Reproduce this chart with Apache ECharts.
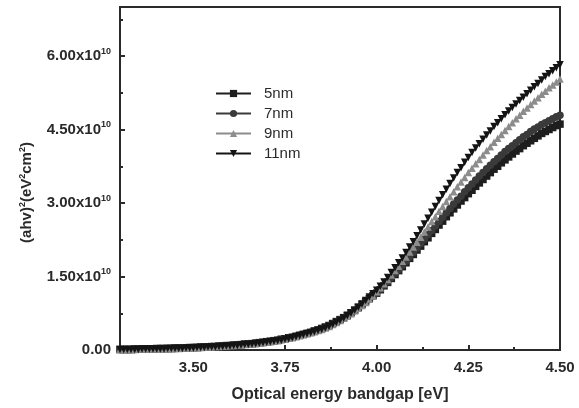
<!DOCTYPE html>
<html>
<head>
<meta charset="utf-8">
<script src="https://cdn.jsdelivr.net/npm/echarts@6/dist/echarts.min.js"></script>
<style>
  html, body { margin: 0; padding: 0; background: #fff; }
  #chart { width: 579px; height: 408px; }
</style>
</head>
<body>
<div id="chart"></div>
<script>
// photon energy (eV), one reading every 0.01 eV
const energy = [
  3.30, 3.31, 3.32, 3.33, 3.34, 3.35, 3.36, 3.37, 3.38, 3.39,
  3.40, 3.41, 3.42, 3.43, 3.44, 3.45, 3.46, 3.47, 3.48, 3.49,
  3.50, 3.51, 3.52, 3.53, 3.54, 3.55, 3.56, 3.57, 3.58, 3.59,
  3.60, 3.61, 3.62, 3.63, 3.64, 3.65, 3.66, 3.67, 3.68, 3.69,
  3.70, 3.71, 3.72, 3.73, 3.74, 3.75, 3.76, 3.77, 3.78, 3.79,
  3.80, 3.81, 3.82, 3.83, 3.84, 3.85, 3.86, 3.87, 3.88, 3.89,
  3.90, 3.91, 3.92, 3.93, 3.94, 3.95, 3.96, 3.97, 3.98, 3.99,
  4.00, 4.01, 4.02, 4.03, 4.04, 4.05, 4.06, 4.07, 4.08, 4.09,
  4.10, 4.11, 4.12, 4.13, 4.14, 4.15, 4.16, 4.17, 4.18, 4.19,
  4.20, 4.21, 4.22, 4.23, 4.24, 4.25, 4.26, 4.27, 4.28, 4.29,
  4.30, 4.31, 4.32, 4.33, 4.34, 4.35, 4.36, 4.37, 4.38, 4.39,
  4.40, 4.41, 4.42, 4.43, 4.44, 4.45, 4.46, 4.47, 4.48, 4.49,
  4.50
];

// (ahv)^2 in units of 1e10 eV^2 cm^-2
const nm5 = [
  0.01, 0.01, 0.01, 0.01, 0.02, 0.02, 0.02, 0.02, 0.02, 0.02,
  0.03, 0.03, 0.03, 0.03, 0.03, 0.04, 0.04, 0.04, 0.04, 0.05,
  0.05, 0.05, 0.06, 0.06, 0.06, 0.07, 0.07, 0.08, 0.08, 0.09,
  0.09, 0.10, 0.10, 0.11, 0.12, 0.12, 0.13, 0.14, 0.15, 0.16,
  0.17, 0.18, 0.19, 0.20, 0.22, 0.23, 0.25, 0.26, 0.28, 0.30,
  0.32, 0.34, 0.36, 0.39, 0.41, 0.44, 0.47, 0.50, 0.54, 0.58,
  0.62, 0.66, 0.71, 0.76, 0.81, 0.87, 0.93, 0.99, 1.05, 1.11,
  1.16, 1.23, 1.31, 1.38, 1.46, 1.54, 1.62, 1.70, 1.78, 1.87,
  1.95, 2.04, 2.12, 2.21, 2.29, 2.38, 2.46, 2.55, 2.63, 2.72,
  2.80, 2.88, 2.96, 3.04, 3.11, 3.19, 3.26, 3.34, 3.41, 3.48,
  3.55, 3.62, 3.69, 3.75, 3.82, 3.88, 3.94, 4.00, 4.06, 4.11,
  4.17, 4.22, 4.27, 4.32, 4.37, 4.42, 4.46, 4.50, 4.54, 4.58,
  4.61
];
const nm7 = [
  0.01, 0.01, 0.01, 0.01, 0.01, 0.02, 0.02, 0.02, 0.02, 0.02,
  0.02, 0.03, 0.03, 0.03, 0.03, 0.03, 0.04, 0.04, 0.04, 0.04,
  0.05, 0.05, 0.05, 0.06, 0.06, 0.07, 0.07, 0.07, 0.08, 0.08,
  0.09, 0.09, 0.10, 0.11, 0.11, 0.12, 0.13, 0.14, 0.14, 0.15,
  0.16, 0.17, 0.18, 0.20, 0.21, 0.23, 0.24, 0.26, 0.28, 0.30,
  0.32, 0.34, 0.36, 0.38, 0.40, 0.43, 0.46, 0.49, 0.53, 0.57,
  0.61, 0.65, 0.70, 0.75, 0.80, 0.86, 0.92, 0.98, 1.04, 1.10,
  1.17, 1.24, 1.32, 1.40, 1.48, 1.56, 1.64, 1.73, 1.81, 1.90,
  1.99, 2.08, 2.17, 2.26, 2.35, 2.44, 2.53, 2.62, 2.71, 2.80,
  2.89, 2.98, 3.06, 3.14, 3.23, 3.31, 3.39, 3.47, 3.55, 3.62,
  3.70, 3.77, 3.84, 3.91, 3.98, 4.05, 4.11, 4.17, 4.23, 4.29,
  4.35, 4.40, 4.46, 4.51, 4.55, 4.60, 4.64, 4.68, 4.72, 4.76,
  4.79
];
const nm9 = [
  0.01, 0.01, 0.01, 0.01, 0.01, 0.02, 0.02, 0.02, 0.02, 0.02,
  0.02, 0.02, 0.03, 0.03, 0.03, 0.03, 0.03, 0.04, 0.04, 0.04,
  0.05, 0.05, 0.05, 0.06, 0.06, 0.06, 0.07, 0.07, 0.08, 0.08,
  0.09, 0.09, 0.10, 0.10, 0.11, 0.12, 0.12, 0.13, 0.14, 0.15,
  0.16, 0.17, 0.18, 0.19, 0.21, 0.22, 0.24, 0.25, 0.27, 0.29,
  0.31, 0.33, 0.35, 0.37, 0.40, 0.42, 0.45, 0.48, 0.52, 0.56,
  0.60, 0.65, 0.69, 0.74, 0.80, 0.85, 0.91, 0.97, 1.04, 1.10,
  1.19, 1.27, 1.35, 1.44, 1.53, 1.62, 1.71, 1.81, 1.90, 2.00,
  2.10, 2.20, 2.30, 2.41, 2.51, 2.62, 2.72, 2.83, 2.93, 3.03,
  3.13, 3.23, 3.33, 3.43, 3.52, 3.62, 3.71, 3.80, 3.89, 3.98,
  4.07, 4.15, 4.24, 4.32, 4.40, 4.48, 4.56, 4.64, 4.72, 4.79,
  4.87, 4.94, 5.01, 5.08, 5.15, 5.22, 5.28, 5.35, 5.41, 5.47,
  5.53
];
const nm11 = [
  0.01, 0.01, 0.01, 0.01, 0.01, 0.01, 0.02, 0.02, 0.02, 0.02,
  0.02, 0.02, 0.02, 0.03, 0.03, 0.03, 0.03, 0.03, 0.04, 0.04,
  0.04, 0.05, 0.05, 0.05, 0.06, 0.06, 0.06, 0.07, 0.07, 0.08,
  0.08, 0.09, 0.09, 0.10, 0.11, 0.11, 0.12, 0.13, 0.14, 0.15,
  0.16, 0.17, 0.18, 0.19, 0.20, 0.22, 0.23, 0.25, 0.27, 0.29,
  0.31, 0.33, 0.35, 0.37, 0.40, 0.42, 0.45, 0.48, 0.52, 0.56,
  0.60, 0.65, 0.70, 0.75, 0.81, 0.87, 0.94, 1.01, 1.08, 1.15,
  1.22, 1.30, 1.39, 1.48, 1.58, 1.68, 1.78, 1.88, 1.99, 2.10,
  2.21, 2.33, 2.45, 2.57, 2.69, 2.81, 2.93, 3.05, 3.17, 3.28,
  3.40, 3.51, 3.62, 3.72, 3.83, 3.93, 4.03, 4.12, 4.21, 4.30,
  4.39, 4.47, 4.56, 4.64, 4.72, 4.80, 4.88, 4.95, 5.02, 5.09,
  5.16, 5.23, 5.30, 5.37, 5.44, 5.51, 5.58, 5.64, 5.70, 5.76,
  5.82
];

const seriesNames = ["5nm", "7nm", "9nm", "11nm"];
const xTicks = [3.5, 3.75, 4.0, 4.25, 4.5];
const xMinorTicks = [3.375, 3.625, 3.875, 4.125, 4.375];
const yTicks = [0, 1.5, 3.0, 4.5, 6.0];
const yMinorTicks = [0.75, 2.25, 3.75, 5.25, 6.75];

const FONT = "'Liberation Sans', Arial, sans-serif";
const INK = "#2a2a2a";
const chart = echarts.init(document.getElementById("chart"));

const pair = (ys) => energy.map((x, i) => [x, ys[i]]);

const rich = {
  m: { fontFamily: FONT, fontSize: 15, fontWeight: "bold", color: INK, lineHeight: 18 },
  s: { fontFamily: FONT, fontSize: 9, fontWeight: "bold", color: INK, lineHeight: 9, verticalAlign: "top" },
};

function lineSeries(name, ys, color, symbol, rotate) {
  return {
    name,
    type: "line",
    xAxisIndex: 0,
    yAxisIndex: 0,
    data: pair(ys),
    symbol,
    symbolSize: 7.5,
    symbolRotate: rotate || 0,
    showAllSymbol: true,
    lineStyle: { color, width: 1 },
    itemStyle: { color, borderWidth: 0 },
    emphasis: { disabled: true },
    animation: false,
  };
}

const baseX = { type: "value", min: 3.3, max: 4.5, position: "bottom", splitLine: { show: false } };
const baseY = { type: "value", min: 0, max: 7, position: "left", splitLine: { show: false } };

chart.setOption({
  animation: false,
  backgroundColor: "#ffffff",
  grid: {
    left: 120, right: 19, top: 7, bottom: 58,
    show: true, borderColor: INK, borderWidth: 2,
  },
  legend: {
    orient: "vertical",
    left: 210,
    top: 81,
    itemWidth: 35,
    itemHeight: 9,
    itemGap: 5,
    data: seriesNames,
    textStyle: { fontFamily: FONT, fontSize: 15, color: INK, padding: [0, 0, 0, 8] },
  },
  xAxis: [
    {
      ...baseX,
      name: "Optical energy bandgap [eV]",
      nameLocation: "middle",
      nameGap: 37,
      nameTextStyle: { fontFamily: FONT, fontSize: 16, fontWeight: "bold", color: INK },
      axisLine: { show: true, lineStyle: { color: INK, width: 2 } },
      axisTick: { show: true, inside: true, length: 5, customValues: xTicks, lineStyle: { color: INK, width: 2 } },
      axisLabel: {
        customValues: xTicks,
        margin: 10,
        fontFamily: FONT, fontSize: 15, fontWeight: "bold", color: INK,
        formatter: (v) => v.toFixed(2),
      },
    },
    {
      ...baseX,
      axisLine: { show: false },
      axisLabel: { show: false },
      axisTick: { show: true, inside: true, length: 3, customValues: xMinorTicks, lineStyle: { color: INK, width: 2 } },
    },
  ],
  yAxis: [
    {
      ...baseY,
      name: "{m|(ahv)}{s|2}{m|(eV}{s|2}{m|cm}{s|2}{m|)}",
      nameLocation: "middle",
      nameGap: 84,
      nameTextStyle: { rich, padding: [0, 28, 0, 0] },
      axisLine: { show: true, lineStyle: { color: INK, width: 2 } },
      axisTick: { show: true, inside: true, length: 5, customValues: yTicks, lineStyle: { color: INK, width: 2 } },
      axisLabel: {
        customValues: yTicks,
        margin: 9,
        rich,
        formatter: (v) => (v === 0 ? "{m|0.00}" : "{m|" + v.toFixed(2) + "x10}{s|10}"),
      },
    },
    {
      ...baseY,
      axisLine: { show: false },
      axisLabel: { show: false },
      axisTick: { show: true, inside: true, length: 3, customValues: yMinorTicks, lineStyle: { color: INK, width: 2 } },
    },
  ],
  series: [
    lineSeries("5nm", nm5, "#1e1e1e", "rect"),
    lineSeries("7nm", nm7, "#3a3a3a", "circle"),
    lineSeries("9nm", nm9, "#8c8c8c", "triangle"),
    lineSeries("11nm", nm11, "#141414", "triangle", 180),
  ],
});
</script>
</body>
</html>
